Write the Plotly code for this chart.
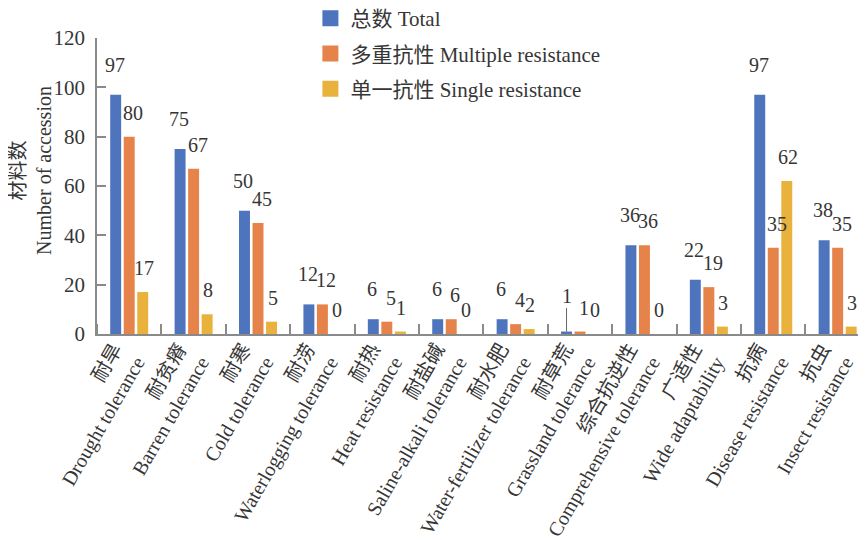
import plotly.graph_objects as go

categories_cn = ["耐旱", "耐贫瘠", "耐寒", "耐涝", "耐热", "耐盐碱", "耐水肥", "耐草荒",
                 "综合抗逆性", "广适性", "抗病", "抗虫"]
categories_en = ["Drought tolerance", "Barren tolerance", "Cold tolerance",
                 "Waterlogging tolerance", "Heat resistance", "Saline-alkali tolerance",
                 "Water-fertilizer tolerance", "Grassland tolerance",
                 "Comprehensive tolerance", "Wide adaptability", "Disease resistance",
                 "Insect resistance"]
total = [97, 75, 50, 12, 6, 6, 6, 1, 36, 22, 97, 38]
multiple = [80, 67, 45, 12, 5, 6, 4, 1, 36, 19, 35, 35]
single = [17, 8, 5, 0, 1, 0, 2, 0, 0, 3, 62, 3]
series_names = ["总数 Total", "多重抗性 Multiple resistance", "单一抗性 Single resistance"]
y_ticks = [0, 20, 40, 60, 80, 100, 120]

colors = ["#4E74BD", "#E6834A", "#E8B23C"]
offsets = [-0.295, -0.085, 0.125]
bar_w = 0.17
label_dx = [-1, 4, 1]
label_dy = [30, 24, 24]

FONT = "Liberation Serif, Times New Roman, Noto Sans CJK SC, serif"
TXT = "#363636"
AX = "#8a8a8a"

x_idx = list(range(len(categories_cn)))
tick_text = [f"{c}<br>{e}" for c, e in zip(categories_cn, categories_en)]

fig = go.Figure()
series = [total, multiple, single]
for k, (vals, name) in enumerate(zip(series, series_names)):
    fig.add_trace(go.Bar(
        x=x_idx, y=vals, name=name, width=bar_w, offset=offsets[k],
        marker=dict(color=colors[k], line=dict(width=0)),
        showlegend=False,
    ))
# legend entries (square swatches)
for k, name in enumerate(series_names):
    fig.add_trace(go.Scatter(
        x=[None], y=[None], mode="markers", name=name,
        marker=dict(symbol="square", size=16, color=colors[k]),
        legendgroup=f"g{k}", hoverinfo="skip",
    ))

annotations = []
for k, vals in enumerate(series):
    for i, v in enumerate(vals):
        xc = i + offsets[k] + bar_w / 2
        if k == 0 and categories_en[i] == "Grassland tolerance":
            annotations.append(dict(
                x=xc, y=v, xref="x", yref="y", text=str(v), showarrow=True,
                arrowhead=0, arrowwidth=1, arrowcolor="#666666", ax=0, ay=-36,
                standoff=0, font=dict(family=FONT, size=20, color=TXT)))
        else:
            annotations.append(dict(
                x=xc, y=v, xref="x", yref="y", text=str(v), showarrow=False,
                xanchor="center", yanchor="middle",
                xshift=label_dx[k], yshift=label_dy[k],
                font=dict(family=FONT, size=20, color=TXT)))

annotations.append(dict(
    x=-0.086, y=0.554, xref="paper", yref="paper",
    text="材料数<br>Number of accession", textangle=-90, showarrow=False,
    xanchor="center", yanchor="middle",
    font=dict(family=FONT, size=20, color=TXT)))

fig.update_layout(
    width=866, height=540,
    margin=dict(l=89, r=8, t=30, b=214, autoexpand=False),
    paper_bgcolor="white", plot_bgcolor="white",
    font=dict(family=FONT, size=20, color=TXT),
    barmode="overlay",
    showlegend=True,
    legend=dict(
        x=0.2775, y=1.135, xanchor="left", yanchor="top",
        font=dict(family=FONT, size=21, color=TXT),
        tracegroupgap=5, bgcolor="rgba(0,0,0,0)", traceorder="grouped",
        itemsizing="trace",
    ),
    annotations=annotations,
    xaxis=dict(
        type="linear", range=[-0.5, 11.44],
        tickmode="array", tickvals=x_idx, ticktext=tick_text, tickangle=-60,
        ticks="", showline=True, linecolor=AX, linewidth=1.5,
        showgrid=False, zeroline=False, ticklabelshift=-15,
        ticklabelstandoff=-6,
        tickfont=dict(family=FONT, size=20, color=TXT),
        minor=dict(tickmode="linear", tick0=0.5, dtick=1, ticks="inside",
                   ticklen=10, tickwidth=1.5, tickcolor=AX, showgrid=False),
    ),
    yaxis=dict(
        range=[0, 120], tickmode="array", tickvals=y_ticks,
        ticks="inside", ticklen=9, tickcolor=AX, tickwidth=1.5,
        showline=True, linecolor=AX, linewidth=1.5,
        showgrid=False, zeroline=False, ticklabelstandoff=6,
        tickfont=dict(family=FONT, size=21, color=TXT),
    ),
)

fig.write_html("out.html")
